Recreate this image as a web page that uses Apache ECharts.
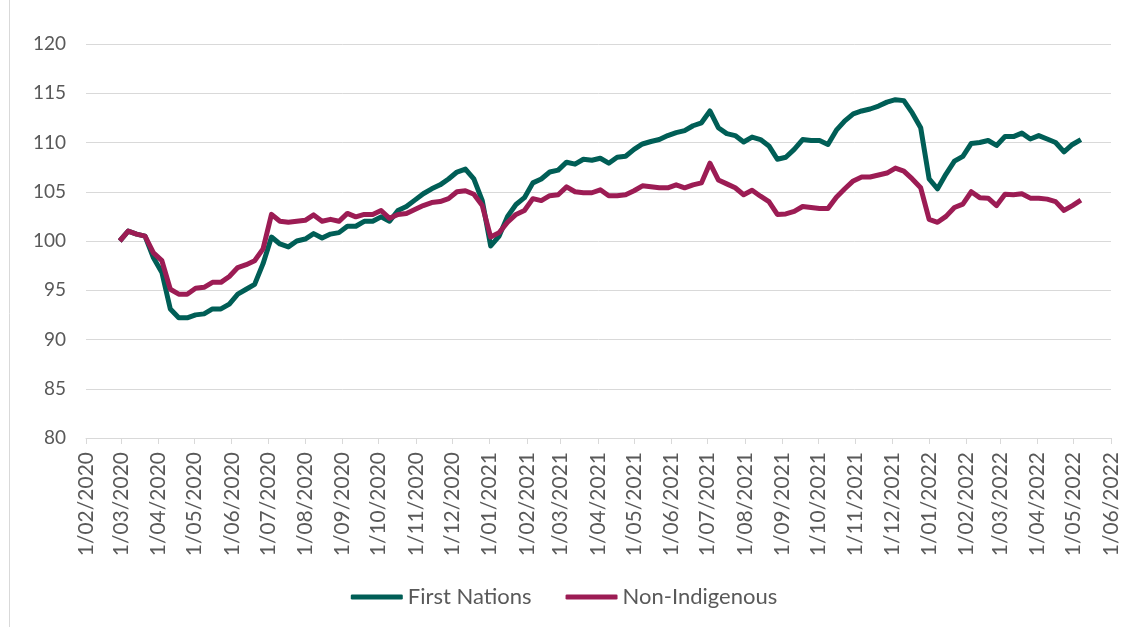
<!DOCTYPE html>
<html>
<head>
<meta charset="utf-8">
<title>First Nations vs Non-Indigenous</title>
<script src="https://cdn.jsdelivr.net/npm/echarts@6/dist/echarts.min.js"></script>
<style>
    html, body { margin: 0; padding: 0; background: #fff; }
    #myChart { width: 1128px; height: 627px; }
</style>
</head>
<body>
<div id="myChart"></div>
<script>
// weekly series, first week ending 29/02/2020
var firstWeek = '2020-02-29';
var seriesNames = ['First Nations', 'Non-Indigenous'];

var firstNations = [
    100, 101.0, 100.7, 100.5, 98.3, 96.8, 93.1, 92.2, 92.2, 92.5,
    92.6, 93.1, 93.1, 93.6, 94.6, 95.1, 95.6, 97.7, 100.4, 99.7,
    99.4, 100.0, 100.2, 100.75, 100.3, 100.7, 100.85, 101.5, 101.5, 102.0,
    102.0, 102.45, 102.0, 103.1, 103.5, 104.15, 104.8, 105.3, 105.7, 106.3,
    107.0, 107.3, 106.3, 104.1, 99.5, 100.5, 102.5, 103.7, 104.4, 105.9,
    106.3, 107.0, 107.2, 108.0, 107.8, 108.3, 108.2, 108.4, 107.9, 108.5,
    108.6, 109.3, 109.85, 110.1, 110.3, 110.7, 111.0, 111.2, 111.7, 112.0,
    113.2, 111.5, 110.9, 110.7, 110.05, 110.55, 110.3, 109.65, 108.3, 108.5,
    109.3, 110.3, 110.2, 110.2, 109.8, 111.25, 112.2, 112.9, 113.2, 113.4,
    113.7, 114.1, 114.35, 114.25, 113.0, 111.5, 106.3, 105.3, 106.8, 108.1,
    108.6, 109.9, 110.0, 110.2, 109.7, 110.6, 110.6, 110.95, 110.35, 110.7,
    110.35, 110.0, 109.05, 109.8, 110.3
];

var nonIndigenous = [
    100, 101.0, 100.7, 100.5, 98.8, 98.0, 95.1, 94.6, 94.6, 95.2,
    95.3, 95.8, 95.8, 96.4, 97.3, 97.6, 98.0, 99.2, 102.7, 102.0,
    101.9, 102.0, 102.1, 102.65, 102.0, 102.2, 102.0, 102.8, 102.45, 102.7,
    102.7, 103.1, 102.3, 102.7, 102.8, 103.2, 103.6, 103.9, 104.0, 104.3,
    105.0, 105.1, 104.75, 103.6, 100.4, 100.85, 101.9, 102.7, 103.1, 104.3,
    104.1, 104.6, 104.7, 105.5, 105.0, 104.9, 104.9, 105.2, 104.6, 104.6,
    104.7, 105.1, 105.6, 105.5, 105.4, 105.4, 105.7, 105.4, 105.7, 105.9,
    107.9, 106.2, 105.8, 105.4, 104.7, 105.15, 104.55, 104.0, 102.7, 102.75,
    103.0, 103.5, 103.4, 103.3, 103.3, 104.45, 105.3, 106.1, 106.5, 106.5,
    106.7, 106.9, 107.4, 107.1, 106.3, 105.4, 102.2, 101.9, 102.5, 103.4,
    103.75, 105.0, 104.4, 104.35, 103.6, 104.75, 104.7, 104.8, 104.35, 104.35,
    104.25, 104.0, 103.1, 103.6, 104.15
];

var xMin = '2020-02-01';
var xMax = '2022-06-01';
var yMin = 80, yMax = 120, yStep = 5;

var colors = ['#005e56', '#9c1c54'];
var font = 'Lato, "Open Sans", sans-serif';
var txt = '#595959';
var grey = '#d9d9d9';

// week-ending dates for each value
var weeks = [];
var d0 = new Date(firstWeek + 'T00:00:00');
for (var i = 0; i < firstNations.length; i++) {
    var d = new Date(d0.getFullYear(), d0.getMonth(), d0.getDate() + 7 * i);
    weeks.push(d);
}

function pair(vals) {
    return vals.map(function (v, i) { return [weeks[i], v]; });
}

function pad(n) { return n < 10 ? '0' + n : '' + n; }

var myChart = echarts.init(document.getElementById('myChart'));
myChart.setOption({
    backgroundColor: '#fff',
    animation: false,
    textStyle: { fontFamily: font },
    grid: { left: 86, right: 17, top: 44, bottom: 189 },
    legend: {
        data: seriesNames,
        bottom: 14,
        icon: 'roundRect',
        itemWidth: 52,
        itemHeight: 5,
        itemGap: 34,
        textStyle: { color: txt, fontSize: 22, fontFamily: font }
    },
    xAxis: {
        type: 'time',
        min: xMin,
        max: xMax,
        minInterval: 28 * 24 * 3600 * 1000,
        maxInterval: 31 * 24 * 3600 * 1000,
        splitLine: { show: false },
        axisLine: { lineStyle: { color: grey, width: 1 } },
        axisTick: { show: true, length: 6, lineStyle: { color: grey } },
        axisLabel: {
            rotate: 90,
            margin: 14,
            interval: 0,
            showMinLabel: true,
            showMaxLabel: true,
            hideOverlap: false,
            color: txt,
            fontSize: 21,
            fontFamily: font,
            formatter: function (val) {
                var t = new Date(val);
                return t.getDate() + '/' + pad(t.getMonth() + 1) + '/' + t.getFullYear();
            }
        }
    },
    yAxis: {
        type: 'value',
        min: yMin,
        max: yMax,
        interval: yStep,
        axisLine: { show: false },
        axisTick: { show: false },
        splitLine: { lineStyle: { color: grey, width: 1 } },
        axisLabel: { color: txt, fontSize: 19, fontFamily: font, margin: 20 }
    },
    series: [
        {
            name: seriesNames[0],
            type: 'line',
            showSymbol: false,
            symbol: 'none',
            color: colors[0],
            lineStyle: { width: 5, color: colors[0], join: 'round' },
            data: pair(firstNations)
        },
        {
            name: seriesNames[1],
            type: 'line',
            showSymbol: false,
            symbol: 'none',
            color: colors[1],
            lineStyle: { width: 5, color: colors[1], join: 'round' },
            data: pair(nonIndigenous)
        }
    ],
    graphic: [
        {
            type: 'line',
            shape: { x1: 9.5, y1: 0, x2: 9.5, y2: 627 },
            style: { stroke: grey, lineWidth: 1 }
        }
    ]
});
</script>
</body>
</html>
